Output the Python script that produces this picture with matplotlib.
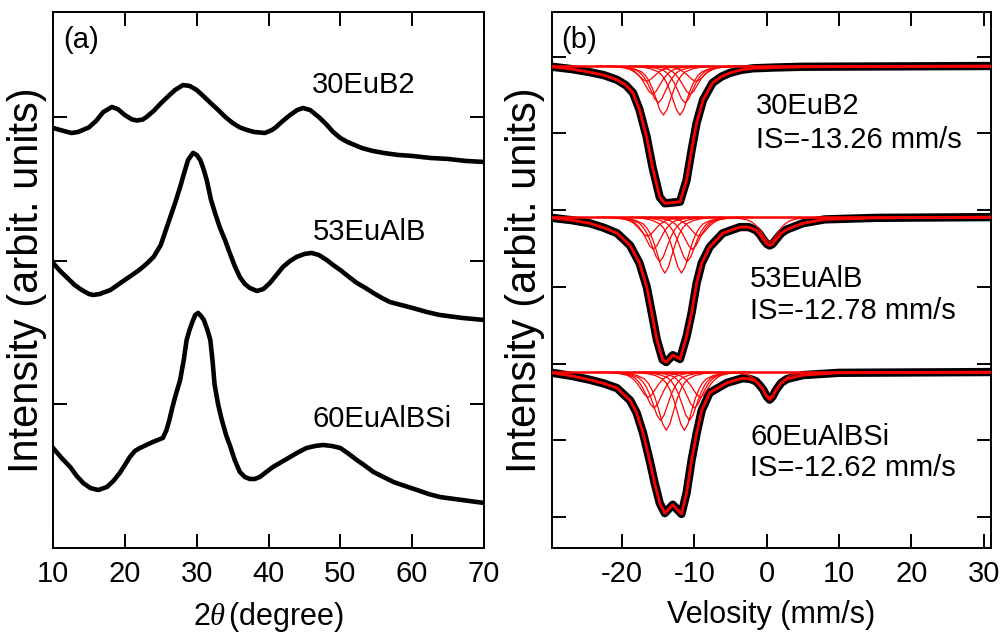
import matplotlib
matplotlib.use("Agg")
import matplotlib.pyplot as plt
import numpy as np

plt.rcParams["font.family"] = ["Liberation Sans", "DejaVu Sans"]
plt.rcParams["mathtext.fontset"] = "custom"
plt.rcParams["mathtext.it"] = "Liberation Serif:italic"

# ---------------- (a) XRD patterns (intensity, arb. units, stacked) ----------------
TT_30EUB2 = [10, 11, 12, 12.6, 13.5, 15, 16, 17, 18.2, 19, 20, 21, 21.7, 22.5, 23, 24,
             25, 26, 27, 28.1, 29, 30, 31, 32, 33, 34, 35, 36, 37, 38, 39.5, 40.5, 41,
             42, 43, 44, 44.8, 45.8, 47, 48, 49, 50, 51, 52, 53, 54.5, 56, 58, 60,
             62.5, 65, 67.5, 70]
I_30EUB2 = [2.927, 2.913, 2.899, 2.892, 2.899, 2.931, 2.976, 3.038, 3.073, 3.059,
            3.017, 2.986, 2.979, 2.986, 3.003, 3.045, 3.098, 3.146, 3.192, 3.226,
            3.220, 3.192, 3.146, 3.098, 3.052, 3.003, 2.962, 2.931, 2.913, 2.899,
            2.892, 2.913, 2.931, 2.976, 3.017, 3.052, 3.066, 3.052, 3.003, 2.955,
            2.899, 2.857, 2.829, 2.808, 2.787, 2.767, 2.753, 2.739, 2.732, 2.718,
            2.711, 2.697, 2.690]

TT_53EUALB = [10, 11, 12, 13, 14, 15, 15.6, 16.5, 18, 19, 20, 21, 22, 23, 24, 25, 26,
              27, 27.7, 28.3, 28.8, 29.5, 30.0, 30.5, 31.0, 31.4, 32.0, 32.6, 33.2,
              34.0, 34.6, 35.3, 36.0, 36.7, 37.4, 38.4, 39.3, 40.2, 41.1, 42.0, 43.0,
              43.9, 45, 46.0, 47, 48.1, 49, 50.0, 51.2, 52.3, 53.5, 54.6, 55.8, 56.9,
              58.5, 60.1, 62, 63.8, 67, 70]
I_53EUALB = [1.986, 1.930, 1.882, 1.833, 1.798, 1.770, 1.763, 1.770, 1.798, 1.833,
             1.868, 1.902, 1.937, 1.979, 2.028, 2.111, 2.258, 2.404, 2.516, 2.620,
             2.704, 2.753, 2.739, 2.704, 2.634, 2.564, 2.425, 2.328, 2.237, 2.139,
             2.056, 1.965, 1.889, 1.840, 1.812, 1.791, 1.805, 1.847, 1.902, 1.958,
             2.000, 2.028, 2.049, 2.056, 2.042, 2.007, 1.972, 1.937, 1.889, 1.847,
             1.812, 1.777, 1.742, 1.714, 1.693, 1.672, 1.645, 1.624, 1.603, 1.589]

TT_60EUALBSI = [10, 11.2, 12.4, 13.3, 14.2, 15.2, 16.3, 17.5, 18.4, 19.3, 20.0, 20.7,
                21.4, 22.1, 23.0, 23.9, 24.6, 25.3, 25.8, 26.2, 26.6, 27.0, 27.7, 28.2,
                28.6, 29.0, 29.4, 29.8, 30.2, 30.6, 31.0, 31.5, 31.9, 32.2, 32.5, 33.0,
                33.5, 34.1, 34.7, 35.3, 36.0, 36.7, 37.4, 38.1, 38.8, 39.7, 40.6, 41.8,
                43.0, 44.2, 45.3, 46.5, 47.6, 48.8, 50.0, 51.2, 52.3, 53.5, 54.6, 56.0,
                57.4, 59.0, 60.7, 62.3, 63.9, 67, 70]
I_60EUALBSI = [0.697, 0.627, 0.564, 0.502, 0.453, 0.418, 0.404, 0.425, 0.467, 0.523,
               0.578, 0.634, 0.676, 0.697, 0.718, 0.739, 0.753, 0.767, 0.822, 0.892,
               0.976, 1.052, 1.171, 1.310, 1.449, 1.519, 1.575, 1.624, 1.638, 1.617,
               1.589, 1.519, 1.449, 1.310, 1.136, 0.997, 0.892, 0.787, 0.704, 0.613,
               0.530, 0.495, 0.481, 0.481, 0.495, 0.530, 0.564, 0.599, 0.634, 0.669,
               0.697, 0.711, 0.718, 0.711, 0.697, 0.655, 0.613, 0.571, 0.530, 0.495,
               0.460, 0.432, 0.404, 0.376, 0.355, 0.334, 0.314]

XRD_LABELS = ["30EuB2", "53EuAlB", "60EuAlBSi"]

# ---------------- (b) 151Eu Mossbauer spectra (absorption depth below baseline) ----------------
V_30EUB2 = [-29.7, -27, -24.5, -22.5, -20.7, -19.5, -18.5, -17.6, -16.6, -15.8, -14.8,
            -14.1, -13.0, -12.0, -11.1, -10.4, -9.7, -8.8, -7.5, -6.3, -5.1, -3.5,
            -1.9, 1, 5, 31]
D_30EUB2 = [0.01, 0.04, 0.08, 0.12, 0.18, 0.25, 0.35, 0.57, 0.93, 1.32, 1.71, 1.79,
            1.78, 1.77, 1.49, 1.10, 0.74, 0.44, 0.22, 0.14, 0.09, 0.05, 0.03, 0.02,
            0.01, 0.0]

V_53EUALB = [-29.7, -27, -24.5, -22.5, -20.7, -18.9, -17.6, -16.6, -15.9, -15.2, -14.4,
             -13.9, -13.0, -12.0, -11.1, -10.4, -9.7, -9.0, -7.9, -6.1, -3.7, -2.5,
             -1.5, -1.0, -0.5, 0.0, 0.4, 0.8, 1.3, 2.0, 2.8, 5.0, 8, 15, 31]
D_53EUALB = [0.01, 0.04, 0.08, 0.14, 0.21, 0.37, 0.60, 0.91, 1.25, 1.60, 1.86, 1.89,
             1.80, 1.85, 1.56, 1.25, 0.86, 0.60, 0.39, 0.21, 0.13, 0.13, 0.17, 0.22,
             0.29, 0.35, 0.37, 0.35, 0.29, 0.21, 0.16, 0.08, 0.03, 0.01, 0.0]

V_60EUALBSI = [-29.7, -27, -24.5, -22.5, -20.7, -18.9, -18.0, -17.1, -16.2, -15.5,
               -14.8, -14.1, -13.0, -11.8, -11.1, -10.4, -9.7, -9.0, -7.9, -5.5, -3.3,
               -2.3, -1.5, -1.0, -0.5, 0.0, 0.4, 0.8, 1.3, 2.0, 2.8, 5, 10, 31]
D_60EUALBSI = [0.01, 0.05, 0.10, 0.15, 0.21, 0.37, 0.53, 0.80, 1.15, 1.45, 1.71, 1.84,
               1.73, 1.85, 1.58, 1.15, 0.80, 0.50, 0.27, 0.14, 0.08, 0.09, 0.12, 0.17,
               0.23, 0.32, 0.36, 0.32, 0.23, 0.14, 0.09, 0.04, 0.01, 0.0]

BASELINES = [5.88, 3.91, 1.89]

# fitted sub-spectra: line centres (mm/s) and depths
COMP_30EUB2_CENTER = [-14.3, -12.0, -15.0, -11.3, -15.8, -10.6, -16.6, -9.8]
COMP_30EUB2_DEPTH = [0.64, 0.64, 0.48, 0.48, 0.37, 0.37, 0.20, 0.20]
COMP_53EUALB_CENTER = [-14.1, -11.8, -14.8, -11.0, -15.7, -10.3, -16.5, -9.4, 0.4]
COMP_53EUALB_DEPTH = [0.73, 0.73, 0.58, 0.58, 0.42, 0.42, 0.25, 0.25, 0.33]
COMP_60EUALBSI_CENTER = [-13.9, -11.4, -14.7, -10.7, -15.6, -10.0, -16.4, -9.2, 0.4]
COMP_60EUALBSI_DEPTH = [0.76, 0.76, 0.63, 0.63, 0.47, 0.47, 0.33, 0.33, 0.33]

# single-line profile
PROFILE_DV = [-7, -5, -4, -3, -2.5, -2, -1.5, -1, -0.5, 0, 0.5, 1, 1.5, 2, 2.5, 3, 4, 5, 7]
PROFILE_REL = [0, 0.03, 0.06, 0.12, 0.19, 0.30, 0.46, 0.67, 0.89, 1.0, 0.89, 0.67,
               0.46, 0.30, 0.19, 0.12, 0.06, 0.03, 0]

IS_LABELS = ["IS=-13.26 mm/s", "IS=-12.78 mm/s", "IS=-12.62 mm/s"]

FS = 21
XLABEL_FS = 22
YLABEL_FS = 30


def style_axes(ax):
    for sp in ax.spines.values():
        sp.set_linewidth(1.4)
    ax.tick_params(direction="in", length=10, width=1.4, top=True, right=True,
                   labelsize=FS, pad=9)
    ax.set_yticklabels([])


fig = plt.figure(figsize=(10.04, 6.35), dpi=100)
ax_a = fig.add_axes([53 / 1004, 1 - 548 / 635, 431 / 1004, 536 / 635])
ax_b = fig.add_axes([552 / 1004, 1 - 548 / 635, 439 / 1004, 536 / 635])

# ---- panel (a)
for tt, inten in [(TT_30EUB2, I_30EUB2), (TT_53EUALB, I_53EUALB), (TT_60EUALBSI, I_60EUALBSI)]:
    ax_a.plot(tt, inten, color="black", lw=3.3, solid_joinstyle="round")
ax_a.set_xlim(10, 70)
ax_a.set_ylim(0, 3.735)
ax_a.set_xticks([10, 20, 30, 40, 50, 60, 70])
ax_a.set_yticks([1, 2, 3])
style_axes(ax_a)
ax_a.set_xlabel(r"2$\theta\,$(degree)", fontsize=XLABEL_FS, labelpad=8)
ax_a.set_ylabel("Intensity (arbit. units)", fontsize=YLABEL_FS)
ax_a.yaxis.set_label_coords(-0.015, 0.5)
ax_a.text(11.4, 3.54, "(a)", fontsize=FS, va="center", ha="left")
for lab, y in zip(XRD_LABELS, [3.226, 2.202, 0.899]):
    ax_a.text(46.1, y, lab, fontsize=21, va="center", ha="left")

# ---- panel (b)
spectra = [
    (V_30EUB2, D_30EUB2, COMP_30EUB2_CENTER, COMP_30EUB2_DEPTH),
    (V_53EUALB, D_53EUALB, COMP_53EUALB_CENTER, COMP_53EUALB_DEPTH),
    (V_60EUALBSI, D_60EUALBSI, COMP_60EUALBSI_CENTER, COMP_60EUALBSI_DEPTH),
]
prof_dv = np.array(PROFILE_DV)
prof_rel = np.array(PROFILE_REL)
for (v, d, centers, depths), base in zip(spectra, BASELINES):
    y = base - np.array(d)
    ax_b.plot(v, y, color="black", lw=6, solid_joinstyle="round", zorder=2)
    for c, dep in zip(centers, depths):
        ax_b.plot(c + prof_dv, base - dep * prof_rel, color="red", lw=0.9, zorder=3)
    ax_b.plot([-29.7, 31], [base, base], color="red", lw=1.8, zorder=3)
    ax_b.plot(v, y, color="red", lw=2.0, solid_joinstyle="round", zorder=4)

ax_b.set_xlim(-29.7, 31)
ax_b.set_ylim(-0.404, 6.584)
ax_b.set_xticks([-20, -10, 0, 10, 20, 30])
ax_b.set_yticks([0, 1, 2, 3, 4, 5, 6])
style_axes(ax_b)
ax_b.set_xticklabels(["-20", "-10", "0", "10", "20", "30"])
ax_b.set_xlabel("Velosity (mm/s)", fontsize=XLABEL_FS, labelpad=8)
ax_b.set_ylabel("Intensity (arbit. units)", fontsize=YLABEL_FS)
ax_b.yaxis.set_label_coords(-0.016, 0.5)
ax_b.text(-28.4, 6.22, "(b)", fontsize=FS, va="center", ha="left")
for lab, is_lab, x0, y1, y2 in zip(XRD_LABELS, IS_LABELS, [-1.5, -2.3, -2.3],
                                   [5.36, 3.10, 1.04], [4.92, 2.69, 0.64]):
    ax_b.text(x0, y1, lab, fontsize=21, va="center", ha="left")
    ax_b.text(x0, y2, is_lab, fontsize=21, va="center", ha="left")

fig.savefig("out.png", dpi=100)
